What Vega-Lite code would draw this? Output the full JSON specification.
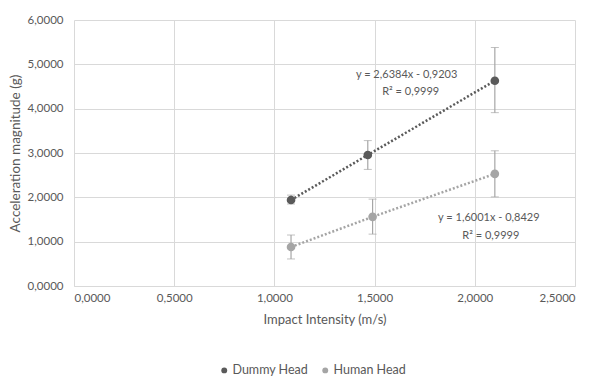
{
  "$schema": "https://vega.github.io/schema/vega-lite/v6.json",
  "autosize": "none",
  "width": 501,
  "height": 266,
  "padding": {"left": 74, "top": 20, "right": 19, "bottom": 92},
  "background": "white",
  "config": {
    "locale": {"number": {"decimal": ",", "thousands": ".", "grouping": [3], "currency": ["", ""]}},
    "font": "Lato",
    "view": {"stroke": null},
    "axis": {
      "labelColor": "#595959", "titleColor": "#595959", "labelFontSize": 11.5, "titleFontSize": 13,
      "titleFontWeight": "normal", "gridColor": "#d9d9d9", "tickSize": 0, "domain": false
    }
  },
  "datasets": {
    "pts": [
      {"series": "Dummy Head", "x": 1.083, "y": 1.94, "lo": 1.85, "hi": 2.05},
      {"series": "Dummy Head", "x": 1.466, "y": 2.955, "lo": 2.63, "hi": 3.28},
      {"series": "Dummy Head", "x": 2.1, "y": 4.63, "lo": 3.91, "hi": 5.38},
      {"series": "Human Head", "x": 1.083, "y": 0.88, "lo": 0.61, "hi": 1.15},
      {"series": "Human Head", "x": 1.49, "y": 1.56, "lo": 1.17, "hi": 1.96},
      {"series": "Human Head", "x": 2.1, "y": 2.53, "lo": 2.01, "hi": 3.05}
    ],
    "labels": [
      {"x": 1.66, "y": 4.76, "t": "y = 2,6384x - 0,9203"},
      {"x": 1.68, "y": 4.38, "t": "R² = 0,9999"},
      {"x": 2.07, "y": 1.53, "t": "y = 1,6001x - 0,8429"},
      {"x": 2.08, "y": 1.13, "t": "R² = 0,9999"}
    ]
  },
  "layer": [
    {
      "data": {"name": "pts"},
      "mark": {"type": "errorbar", "ticks": {"size": 8, "color": "#a6a6a6"}, "rule": {"color": "#a6a6a6", "strokeWidth": 1.2}},
      "encoding": {
        "x": {"field": "x", "type": "quantitative", "scale": {"domain": [0, 2.5], "nice": false},
          "axis": {"values": [0, 0.5, 1, 1.5, 2, 2.5], "format": ".4f", "title": "Impact Intensity (m/s)", "labelPadding": 6, "titlePadding": 10, "domain": true, "domainColor": "#d9d9d9"}},
        "y": {"field": "lo", "type": "quantitative", "scale": {"domain": [0, 6], "nice": false},
          "axis": {"values": [0, 1, 2, 3, 4, 5, 6], "format": ".4f", "title": "Acceleration magnitude (g)", "labelPadding": 11, "titlePadding": 5, "titleFontSize": 13.5}},
        "y2": {"field": "hi"}
      }
    },
    {
      "data": {"name": "pts"},
      "mark": {"type": "circle", "size": 75, "opacity": 1},
      "encoding": {
        "x": {"field": "x", "type": "quantitative"},
        "y": {"field": "y", "type": "quantitative"},
        "color": {"field": "series", "type": "nominal",
          "scale": {"domain": ["Dummy Head", "Human Head"], "range": ["#5a5a5a", "#a5a5a5"]},
          "legend": {"title": null, "orient": "none", "direction": "horizontal", "legendX": 144, "legendY": 344,
            "symbolType": "circle", "symbolSize": 35, "symbolStrokeWidth": 0, "symbolOpacity": 1, "labelFontSize": 12.5, "labelColor": "#595959", "columnPadding": 10, "labelOffset": 2}}
      }
    },
    {
      "data": {"name": "pts"},
      "mark": {"type": "line", "strokeDash": [2, 2], "strokeWidth": 2.5},
      "encoding": {
        "x": {"field": "x", "type": "quantitative"},
        "y": {"field": "y", "type": "quantitative"},
        "color": {"field": "series", "type": "nominal"}
      }
    },
    {
      "data": {"name": "labels"},
      "mark": {"type": "text", "fontSize": 11, "color": "#595959", "align": "center", "baseline": "middle"},
      "encoding": {
        "x": {"field": "x", "type": "quantitative"},
        "y": {"field": "y", "type": "quantitative"},
        "text": {"field": "t"}
      }
    }
  ]
}
